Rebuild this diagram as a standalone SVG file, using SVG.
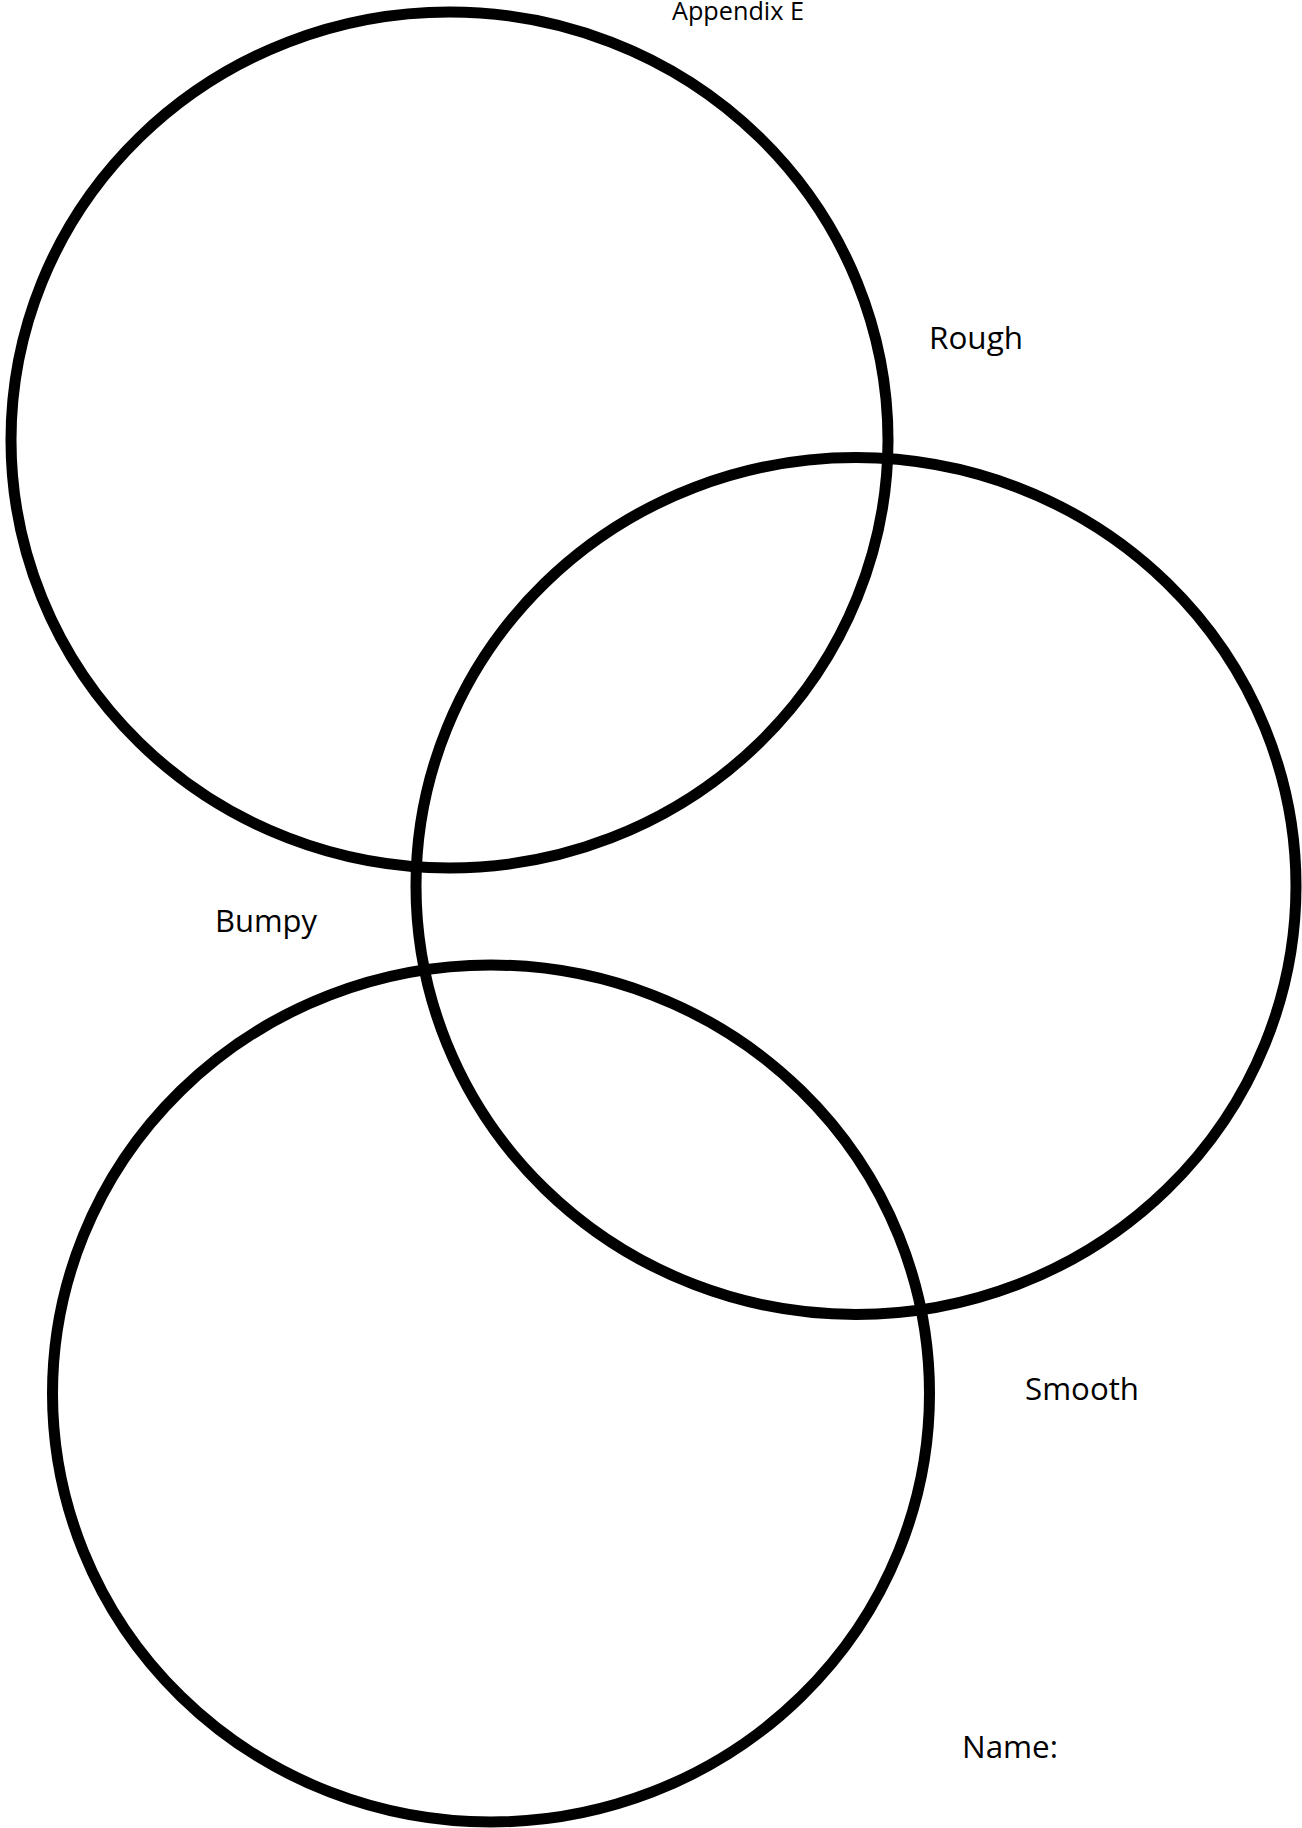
<svg xmlns="http://www.w3.org/2000/svg" width="1302" height="1828" viewBox="0 0 1302 1828">
<style>
.ring{fill:none;stroke:#000;stroke-width:11}
.lbl{font-family:"Open Sans","Noto Sans",sans-serif;fill:#000}
</style>
<rect width="1302" height="1828" fill="#fff"/>
<g id="connectors"></g>
<g id="circle-rough"><ellipse class="ring" cx="449.5" cy="440" rx="438.5" ry="428"/></g>
<g id="circle-smooth"><ellipse class="ring" cx="856" cy="886" rx="440" ry="428.5"/></g>
<g id="circle-bumpy"><ellipse class="ring" cx="491" cy="1393.5" rx="438.5" ry="428.5"/></g>
<g id="title"><text class="lbl" x="672" y="20" font-size="25" textLength="132" lengthAdjust="spacingAndGlyphs">Appendix E</text></g>
<g id="label-rough"><text class="lbl" x="929" y="349" font-size="31" textLength="94" lengthAdjust="spacingAndGlyphs">Rough</text></g>
<g id="label-bumpy"><text class="lbl" x="215" y="932" font-size="31" textLength="102" lengthAdjust="spacingAndGlyphs">Bumpy</text></g>
<g id="label-smooth"><text class="lbl" x="1025" y="1400" font-size="31" textLength="114" lengthAdjust="spacingAndGlyphs">Smooth</text></g>
<g id="label-name"><text class="lbl" x="962" y="1758" font-size="31" textLength="96" lengthAdjust="spacingAndGlyphs">Name:</text></g>
</svg>
